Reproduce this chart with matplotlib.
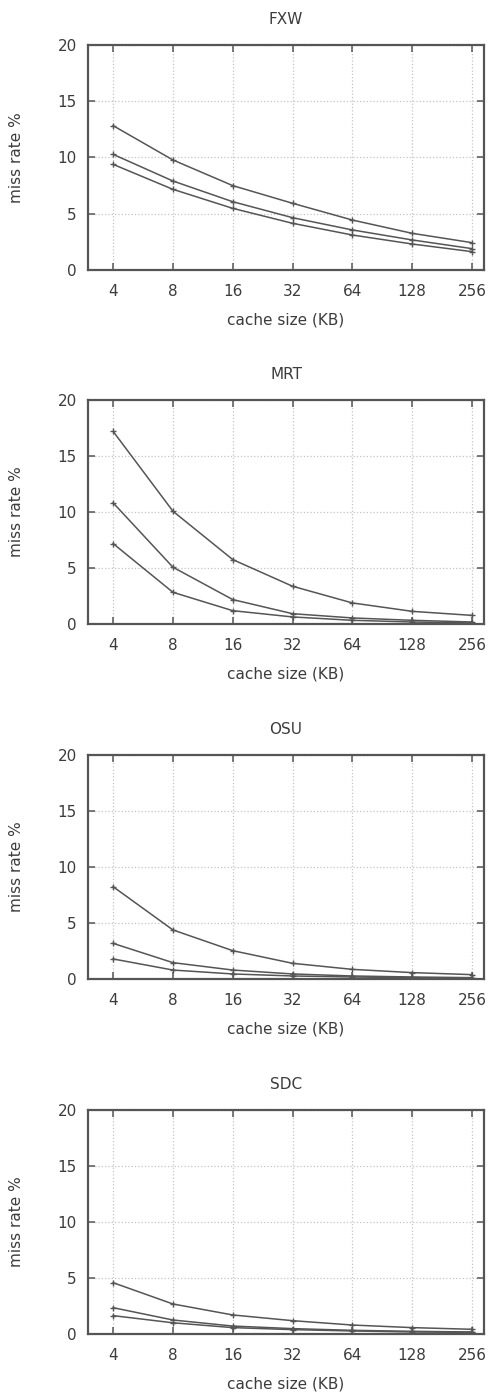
import matplotlib
matplotlib.use("Agg")
import matplotlib.pyplot as plt

cache_sizes = ["4", "8", "16", "32", "64", "128", "256"]
titles = ["FXW", "MRT", "OSU", "SDC"]

fxw_a = [12.83, 9.78, 7.5, 5.93, 4.44, 3.26, 2.43]
fxw_b = [10.28, 7.91, 6.07, 4.65, 3.56, 2.67, 1.9]
fxw_c = [9.39, 7.17, 5.48, 4.15, 3.11, 2.31, 1.63]

mrt_a = [17.2, 10.07, 5.75, 3.37, 1.88, 1.13, 0.77]
mrt_b = [10.82, 5.07, 2.18, 0.92, 0.54, 0.33, 0.18]
mrt_c = [7.18, 2.83, 1.19, 0.63, 0.33, 0.18, 0.09]

osu_a = [8.24, 4.38, 2.53, 1.4, 0.86, 0.57, 0.39]
osu_b = [3.18, 1.46, 0.8, 0.45, 0.27, 0.18, 0.12]
osu_c = [1.79, 0.8, 0.45, 0.27, 0.18, 0.12, 0.06]

sdc_a = [4.58, 2.68, 1.7, 1.19, 0.8, 0.57, 0.42]
sdc_b = [2.35, 1.25, 0.71, 0.48, 0.33, 0.24, 0.18]
sdc_c = [1.64, 1.0, 0.57, 0.39, 0.27, 0.18, 0.15]

panels = [
    (fxw_a, fxw_b, fxw_c),
    (mrt_a, mrt_b, mrt_c),
    (osu_a, osu_b, osu_c),
    (sdc_a, sdc_b, sdc_c),
]

plt.rcParams['font.family'] = ['DejaVu Sans']
text_col = '#3c3c3c'

fig = plt.figure(figsize=(4.91, 13.93), dpi=100)
W, H = 491, 1393
left, right = 88, 484
tops = [45, 400, 755, 1110]
bottoms = [270, 624, 979, 1334]

x = list(range(len(cache_sizes)))
for i, (title, series) in enumerate(zip(titles, panels)):
    ax = fig.add_axes([left / W, 1 - bottoms[i] / H, (right - left) / W, (bottoms[i] - tops[i]) / H])
    for s in series:
        ax.plot(x, s, color='#555555', lw=1.1, marker='+', ms=4, mew=1.0)
    ax.set_xlim(-0.42, 6.2)
    ax.set_ylim(0, 20)
    ax.set_yticks([0, 5, 10, 15, 20])
    ax.set_xticks(x)
    ax.set_xticklabels(cache_sizes)
    ax.grid(True, color='#c4c4c4', linestyle=':', linewidth=0.9)
    ax.tick_params(direction='in', top=True, right=True, length=5, width=1.1,
                   color='#555555', labelsize=11, labelcolor=text_col)
    ax.tick_params(axis='x', pad=10)
    ax.tick_params(axis='y', pad=8)
    for sp in ax.spines.values():
        sp.set_linewidth(1.6)
        sp.set_color('#555555')
    ax.set_title(title, fontsize=11, color=text_col, pad=15)
    ax.set_xlabel('cache size (KB)', fontsize=11, color=text_col, labelpad=10)
    ax.set_ylabel('miss rate %', fontsize=11, color=text_col, labelpad=24)

fig.savefig('out.png', dpi=100)
